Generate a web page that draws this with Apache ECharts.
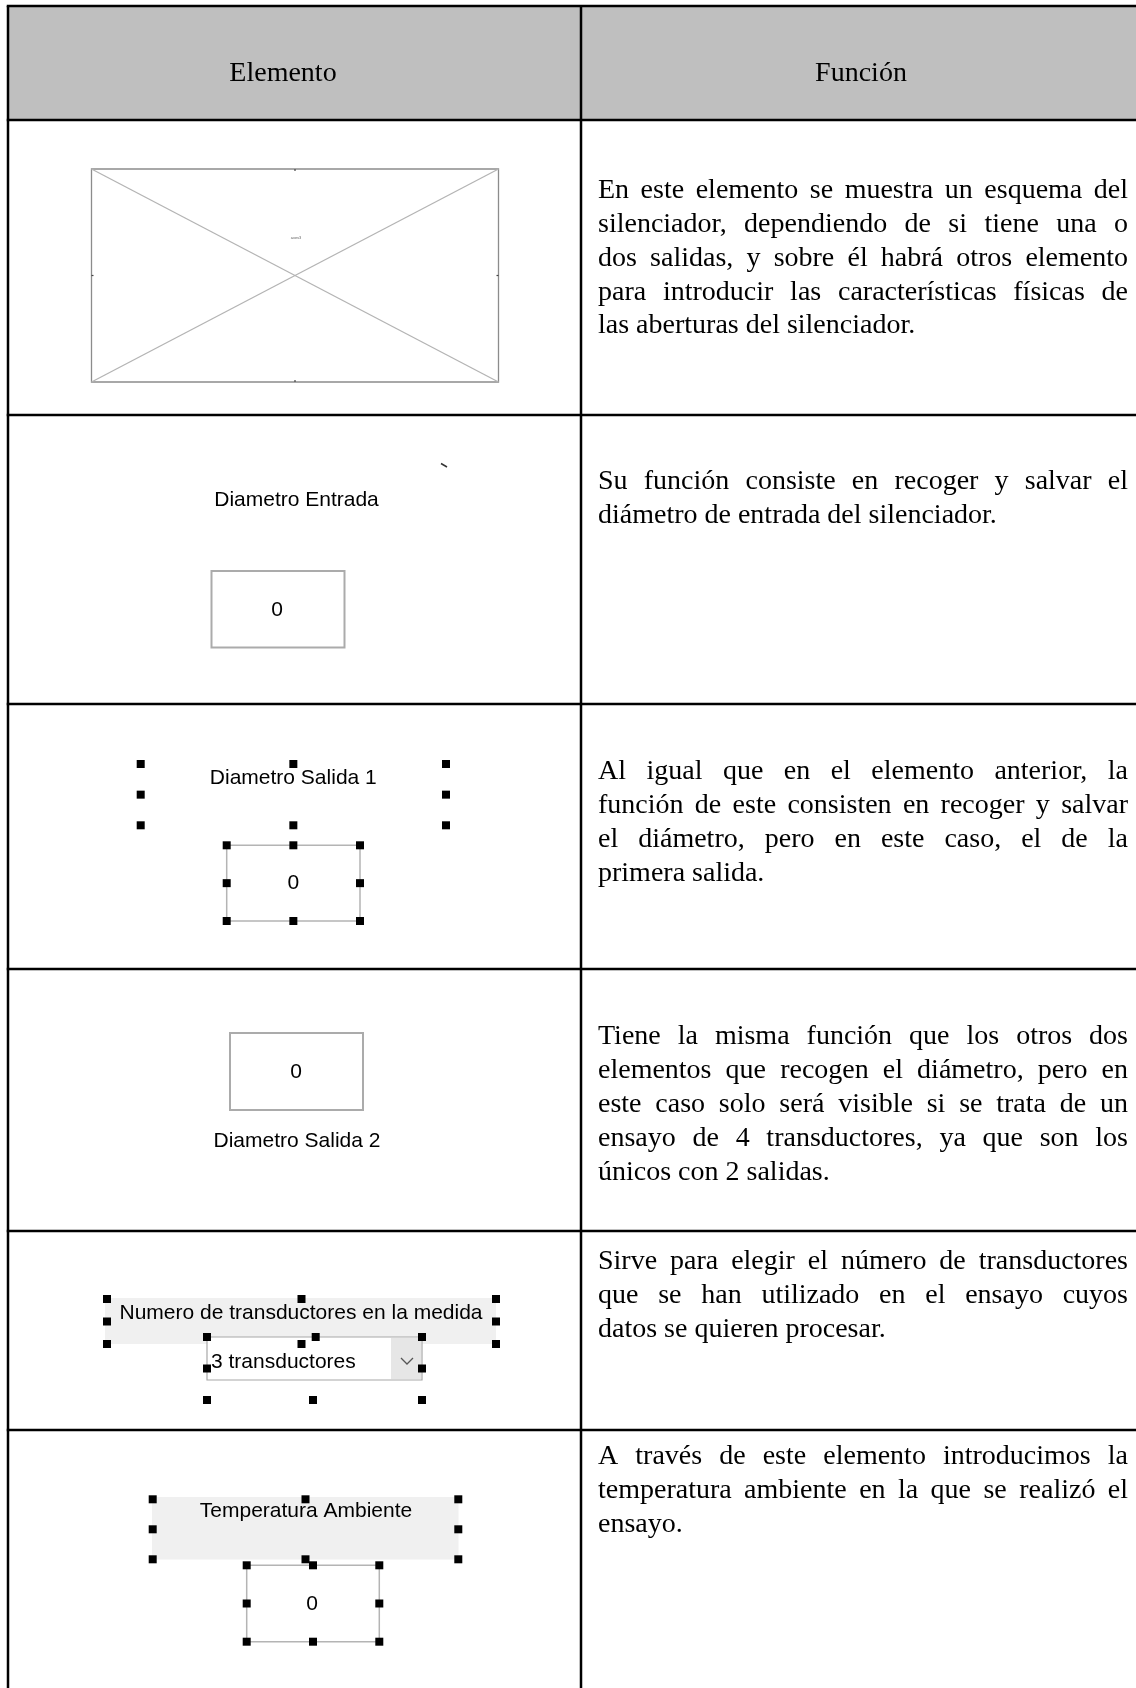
<!DOCTYPE html>
<html><head><meta charset="utf-8">
<script src="https://cdn.jsdelivr.net/npm/echarts@6/dist/echarts.min.js"></script>
<style>html,body{margin:0;padding:0;background:#fff}#c{width:1136px;height:1688px}</style>
</head><body><div id="c"></div>
<script>
// ---- content ----
const headers = ['Elemento', 'Función'];
const elementLabels = ['axes3', 'Diametro Entrada', 'Diametro Salida 1', 'Diametro Salida 2',
  'Numero de transductores en la medida', 'Temperatura Ambiente'];
const inputValues = ['0', '0', '0', '0'];
const dropdownText = '3 transductores';
const funcRow1 = ['En este elemento se muestra un esquema del',
  'silenciador, dependiendo de si tiene una o',
  'dos salidas, y sobre él habrá otros elemento',
  'para introducir las características físicas de',
  'las aberturas del silenciador.'];
const funcRow2 = ['Su función consiste en recoger y salvar el',
  'diámetro de entrada del silenciador.'];
const funcRow3 = ['Al igual que en el elemento anterior, la',
  'función de este consisten en recoger y salvar',
  'el diámetro, pero en este caso, el de la',
  'primera salida.'];
const funcRow4 = ['Tiene la misma función que los otros dos',
  'elementos que recogen el diámetro, pero en',
  'este caso solo será visible si se trata de un',
  'ensayo de 4 transductores, ya que son los',
  'únicos con 2 salidas.'];
const funcRow5 = ['Sirve para elegir el número de transductores',
  'que se han utilizado en el ensayo cuyos',
  'datos se quieren procesar.'];
const funcRow6 = ['A través de este elemento introducimos la',
  'temperatura ambiente en la que se realizó el',
  'ensayo.'];
const functionTexts = [funcRow1, funcRow2, funcRow3, funcRow4, funcRow5, funcRow6];

// ---- layout ----
const SERIF = '"Liberation Serif", "Times New Roman", serif';
const SANS = '"Liberation Sans", Arial, sans-serif';
const SERIF_SIZE = 28, SANS_SIZE = 21;
const X0 = 8, XM = 581, XR = 1136;
const rowLines = [6, 120, 415, 704, 969, 1231, 1430];
const firstLineY = [190.5, 482, 772, 1037, 1261.5, 1457];
const LH = 33.9;
const TX0 = 598, TX1 = 1128;

const els = [];
const cv = document.createElement('canvas').getContext('2d');
function measure(s, size, fam) { cv.font = size + 'px ' + fam; return cv.measureText(s).width; }
function rect(x, y, w, h, style, z) { els.push({ type: 'rect', shape: { x, y, width: w, height: h }, style, z: z || 1, silent: true }); }
function line(x1, y1, x2, y2, stroke, lw, z) { els.push({ type: 'line', shape: { x1, y1, x2, y2 }, style: { stroke, lineWidth: lw }, z: z || 2, silent: true }); }
function text(s, x, y, size, fam, align, color, z) {
  els.push({ type: 'text', x, y, z: z || 5, silent: true,
    style: { text: s, fontSize: size, fontFamily: fam, fill: color || '#000', textAlign: align || 'left', textVerticalAlign: 'middle' } });
}
function handle(x, y) { rect(x - 4, y - 4, 8, 8, { fill: '#000' }, 10); }
function handles8(x1, y1, x2, y2) {
  const mx = (x1 + x2) / 2, my = (y1 + y2) / 2;
  [[x1, y1], [mx, y1], [x2, y1], [x1, my], [x2, my], [x1, y2], [mx, y2], [x2, y2]].forEach(p => handle(p[0], p[1]));
}
function boxStroke(x1, y1, x2, y2, color, lw) { rect(x1, y1, x2 - x1, y2 - y1, { fill: '#fff', stroke: color, lineWidth: lw }, 3); }

// header background
rect(X0, rowLines[0], XR - X0, rowLines[1] - rowLines[0], { fill: '#bfbfbf' }, 0);
// grid lines
rowLines.forEach(y => line(X0 - 1.25, y, XR, y, '#000', 2.5, 4));
line(X0, rowLines[0], X0, 1688, '#000', 2.5, 4);
line(XM, rowLines[0], XM, 1688, '#000', 2.5, 4);
// header text
text(headers[0], 283, 74, SERIF_SIZE, SERIF, 'center');
text(headers[1], 861, 74, SERIF_SIZE, SERIF, 'center');

// function column, justified
functionTexts.forEach((lines, r) => {
  lines.forEach((ln, i) => {
    const y = firstLineY[r] + i * LH;
    const words = ln.split(' ');
    const last = i === lines.length - 1;
    if (last || words.length < 2) { text(ln, TX0, y, SERIF_SIZE, SERIF, 'left'); return; }
    const ws = words.map(w => measure(w, SERIF_SIZE, SERIF));
    const total = ws.reduce((a, b) => a + b, 0);
    const gap = (TX1 - TX0 - total) / (words.length - 1);
    let x = TX0;
    words.forEach((w, k) => { text(w, x, y, SERIF_SIZE, SERIF, 'left'); x += ws[k] + gap; });
  });
});

// Row 1: placeholder axes
const ax = [91.5, 169, 498.5, 382];
rect(ax[0], ax[1], ax[2] - ax[0], ax[3] - ax[1], { fill: 'none', stroke: '#8c8c8c', lineWidth: 1.3 }, 3);
line(ax[0], ax[1], ax[2], ax[3], '#b4b4b4', 1.3, 3);
line(ax[0], ax[3], ax[2], ax[1], '#b4b4b4', 1.3, 3);
const amx = (ax[0] + ax[2]) / 2, amy = (ax[1] + ax[3]) / 2;
line(amx, ax[1], amx, ax[1] + 2, '#444', 1.2, 3);
line(amx, ax[3] - 2, amx, ax[3], '#444', 1.2, 3);
line(ax[0], amy, ax[0] + 2, amy, '#444', 1.2, 3);
line(ax[2] - 2, amy, ax[2], amy, '#444', 1.2, 3);
text(elementLabels[0], 296, 238, 4, SANS, 'center', '#666');

// Row 2
text(elementLabels[1], 296.5, 500.5, SANS_SIZE, SANS, 'center');
boxStroke(211.5, 571, 344.5, 647.5, '#ababab', 2);
text(inputValues[0], 277, 610, SANS_SIZE, SANS, 'center');
line(441, 463.5, 447, 467, '#333', 1.5, 3);

// Row 3
handles8(140.7, 764, 446, 825.3);
text(elementLabels[2], 293.3, 778, SANS_SIZE, SANS, 'center');
boxStroke(226.7, 845.3, 360, 921, '#b4b4b4', 1.5);
handles8(226.7, 845.3, 360, 921);
text(inputValues[1], 293.3, 883, SANS_SIZE, SANS, 'center');

// Row 4
boxStroke(230, 1033, 363, 1110, '#ababab', 2);
text(inputValues[2], 296, 1072, SANS_SIZE, SANS, 'center');
text(elementLabels[3], 297, 1141.5, SANS_SIZE, SANS, 'center');

// Row 5
rect(105, 1298, 391, 46, { fill: '#f0f0f0' }, 1);
handles8(107, 1299, 496, 1344);
text(elementLabels[4], 301, 1313, SANS_SIZE, SANS, 'center');
rect(207, 1337, 215, 43, { fill: '#fff', stroke: '#a8a8a8', lineWidth: 1.2 }, 3);
rect(391, 1338, 30, 41, { fill: '#e6e6e6' }, 4);
els.push({ type: 'polyline', shape: { points: [[401, 1358], [407, 1364], [413, 1358]] }, style: { stroke: '#555', lineWidth: 1.3, fill: 'none' }, z: 5, silent: true });
text(dropdownText, 211, 1362, SANS_SIZE, SANS, 'left');
[[207, 1337], [315.7, 1337], [422, 1337], [207, 1368.5], [422, 1368.5], [207, 1400], [313, 1400], [422, 1400]].forEach(p => handle(p[0], p[1]));

// Row 6
rect(152, 1497, 306.5, 62.5, { fill: '#f0f0f0' }, 1);
handles8(152.7, 1499.3, 458.3, 1559.3);
text(elementLabels[5], 306, 1511.7, SANS_SIZE, SANS, 'center');
boxStroke(246.7, 1565.3, 379.3, 1641.7, '#b4b4b4', 1.5);
handles8(246.7, 1565.3, 379.3, 1641.7);
text(inputValues[3], 312, 1604, SANS_SIZE, SANS, 'center');

const chart = echarts.init(document.getElementById('c'), null, { renderer: 'canvas' });
chart.setOption({ animation: false, backgroundColor: '#fff', graphic: { elements: els } });
</script>
</body></html>
